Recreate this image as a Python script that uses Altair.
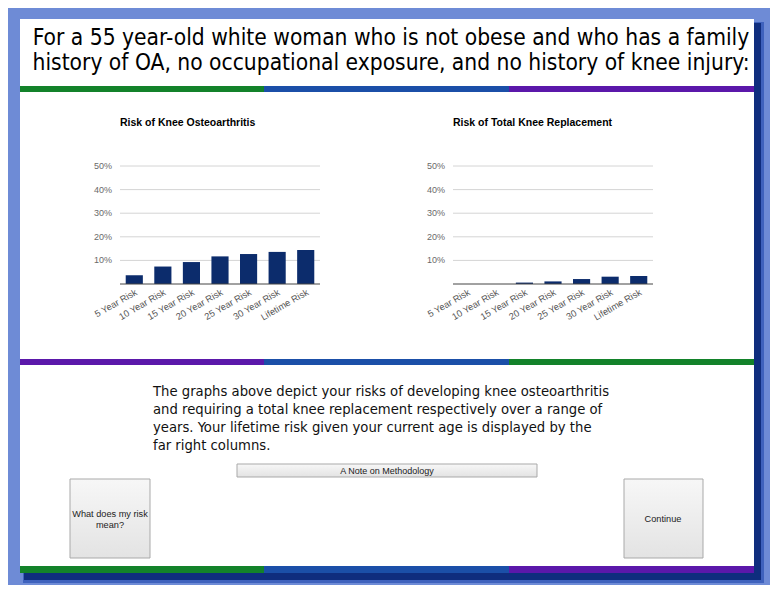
import altair as alt
import pandas as pd

# ---------------- data ----------------
categories = ["5 Year Risk", "10 Year Risk", "15 Year Risk", "20 Year Risk",
              "25 Year Risk", "30 Year Risk", "Lifetime Risk"]
oa_risk = [3.7, 7.4, 9.3, 11.7, 12.7, 13.6, 14.4]
tkr_risk = [0.0, 0.0, 0.6, 1.1, 2.1, 3.1, 3.4]
tick_values = [10, 20, 30, 40, 50]
tick_labels = ["10%", "20%", "30%", "40%", "50%"]

chart_titles = ["Risk of Knee Osteoarthritis", "Risk of Total Knee Replacement"]
header_lines = ["For a 55 year-old white woman who is not obese and who has a family",
                "history of OA, no occupational exposure, and no history of knee injury:"]
paragraph_lines = ["The graphs above depict your risks of developing knee osteoarthritis",
                   "and requiring a total knee replacement respectively over a range of",
                   "years. Your lifetime risk given your current age is displayed by the",
                   "far right columns."]
note_button = "A Note on Methodology"
risk_button = ["What does my risk", "mean?"]
continue_button = "Continue"

# ---------------- styles ----------------
BG = "#6e8bd6"
NAVY_SHADOW = "#0f2d7e"
GREEN, BLUE, PURPLE = "#13822a", "#1b4fa8", "#5b18aa"
BAR = "#0c2c6c"
HEAD_FONT = "DejaVu Sans Condensed, DejaVu Sans"
CHART_FONT = "Liberation Sans, Arial"
NARROW_FONT = "Liberation Sans Narrow, Liberation Sans"

W, H = 762, 577
base = alt.Chart(pd.DataFrame({"k": [0]}))


def rect(x, x2, y, y2, color, **kw):
    return base.mark_rect(fill=color, **kw).encode(
        x=alt.value(x), x2=alt.value(x2), y=alt.value(y), y2=alt.value(y2))


layers = []
# shadow + panel
layers.append(rect(15, 756, 14, 575, "#3f62bd"))
layers.append(rect(16, 753, 15, 572, NAVY_SHADOW))
layers.append(rect(12, 746, 11, 558, "white"))

# strips
thirds = [(12, 256), (256, 501), (501, 746)]
for (y0, y1), cols in [((78, 84), (GREEN, BLUE, PURPLE)),
                       ((351, 357), (PURPLE, BLUE, GREEN)),
                       ((558, 565), (GREEN, BLUE, PURPLE))]:
    for (x0, x1), c in zip(thirds, cols):
        layers.append(rect(x0, x1, y0, y1, c))

# header text
layers.append(base.mark_text(font=HEAD_FONT, fontSize=22.6, align="center",
                             baseline="alphabetic", lineHeight=25, color="#000").encode(
    x=alt.value(383), y=alt.value(37), text=alt.value(header_lines)))

# ---------------- bar charts ----------------
Y0, Y50 = 276, 158


def panel(values, title, x0, x1):
    df = pd.DataFrame({"category": categories, "risk": values})
    ticks = pd.DataFrame({"tick": tick_values, "label": tick_labels})
    xs = alt.Scale(domain=categories, range=[x0, x1], paddingInner=0.4, paddingOuter=0.2)
    ys = alt.Scale(domain=[0, 50], range=[Y0, Y50], nice=False, zero=True)
    xenc = alt.X("category:N", sort=categories, scale=xs, axis=None)
    out = []
    out.append(alt.Chart(ticks).mark_rule(color="#d4d4d4", strokeWidth=1).encode(
        y=alt.Y("tick:Q", scale=ys, axis=None), x=alt.value(x0), x2=alt.value(x1)))
    out.append(alt.Chart(ticks).mark_text(font=CHART_FONT, fontSize=9, color="#6a6a6a",
                                          align="right", baseline="middle").encode(
        y=alt.Y("tick:Q", scale=ys, axis=None), x=alt.value(x0 - 8), text="label:N"))
    out.append(alt.Chart(df).mark_bar(color=BAR).encode(
        x=xenc, y=alt.Y("risk:Q", scale=ys, axis=None)))
    out.append(base.mark_rule(color="#444444", strokeWidth=1).encode(
        y=alt.value(Y0), x=alt.value(x0), x2=alt.value(x1)))
    out.append(alt.Chart(df).mark_text(font=CHART_FONT, fontSize=9.3, color="#555555",
                                       align="right", baseline="top", angle=330).encode(
        x=xenc, y=alt.value(Y0 + 4), text="category:N"))
    out.append(base.mark_text(font=CHART_FONT, fontSize=10.5, fontWeight="bold",
                              color="#000", align="left", baseline="middle").encode(
        x=alt.value(x0), y=alt.value(115), text=alt.value(title)))
    return out


layers += panel(oa_risk, chart_titles[0], 112, 312)
layers += panel(tkr_risk, chart_titles[1], 445, 645)

# paragraph
layers.append(base.mark_text(font=HEAD_FONT, fontSize=14.7, align="left",
                             baseline="alphabetic", lineHeight=18, color="#111").encode(
    x=alt.value(145), y=alt.value(388), text=alt.value(paragraph_lines)))

# buttons
grad = alt.Gradient(gradient="linear", x1=0, x2=0, y1=0, y2=1,
                    stops=[alt.GradientStop(color="#f7f7f7", offset=0),
                           alt.GradientStop(color="#e3e3e3", offset=1)])
for (x0, x1, y0, y1) in [(229, 529, 456, 469), (62, 142, 471, 550), (616, 695, 471, 550)]:
    layers.append(base.mark_rect(fill=grad, stroke="#a9a9a9", strokeWidth=1).encode(
        x=alt.value(x0), x2=alt.value(x1), y=alt.value(y0), y2=alt.value(y1)))

layers.append(base.mark_text(font=NARROW_FONT, fontSize=9, color="#222", align="center",
                             baseline="middle").encode(
    x=alt.value(379), y=alt.value(463), text=alt.value(note_button)))
layers.append(base.mark_text(font=NARROW_FONT, fontSize=9.2, color="#222", align="center",
                             baseline="middle", lineHeight=11).encode(
    x=alt.value(102), y=alt.value(506), text=alt.value(risk_button)))
layers.append(base.mark_text(font=NARROW_FONT, fontSize=9.2, color="#222", align="center",
                             baseline="middle").encode(
    x=alt.value(655), y=alt.value(511), text=alt.value(continue_button)))

chart = alt.layer(*layers).resolve_scale(x="independent", y="independent").properties(
    width=W, height=H, autosize=alt.AutoSizeParams(type="none"), padding=0,
    background=BG
).configure_view(stroke=None)

chart.save("out.html", embed_options={"renderer": "svg", "actions": False})
